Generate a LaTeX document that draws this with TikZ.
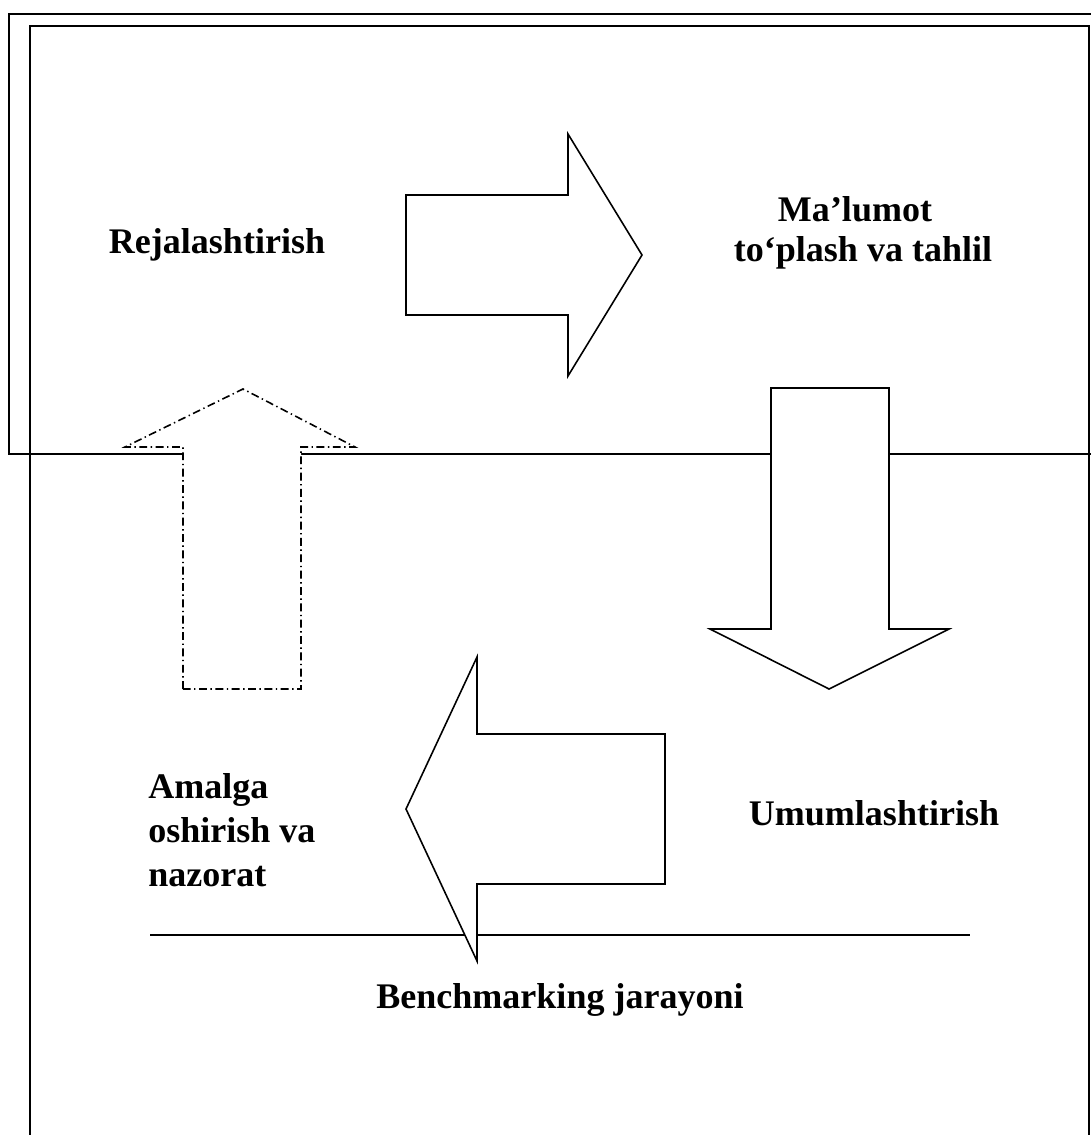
\documentclass[tikz,border=0pt]{standalone}
\usepackage{fontspec}
\setmainfont{Liberation Serif}
\usetikzlibrary{positioning}

\begin{document}
\begin{tikzpicture}[x=0.02cm, y=-0.02cm,
        frame/.style={draw=black, line width=1.1pt},
        blockarrow/.style={draw=black, line width=0.9pt, fill=white, line join=miter},
        dashdotarrow/.style={blockarrow, dash pattern=on 4.5pt off 2pt on 0.8pt off 2pt},
        stage/.style={font=\fontsize{20.5}{25}\selectfont\bfseries, inner sep=0pt}]
            \useasboundingbox (0, 0) rectangle (1091, 1135);
            \clip (0, 0) rectangle (1091, 1135);

            % frames
            \draw[frame] (1100, 14) -- (9, 14) -- (9, 454) -- (1100, 454);
            \draw[frame] (30, 1150) -- (30, 26) -- (1089, 26) -- (1089, 1150);
            \draw[frame] (150, 935) -- (970, 935);

            % block arrows
            \draw[blockarrow] (406, 195) -- (568, 195) -- (568, 134) -- (642, 255) -- (568, 376) -- (568, 315) -- (406, 315) -- cycle;
            \draw[blockarrow] (771, 388) -- (889, 388) -- (889, 629) -- (949, 629) -- (829, 689) -- (710, 629) -- (771, 629) -- cycle;
            \draw[blockarrow] (665, 734) -- (477, 734) -- (477, 657) -- (406, 809) -- (477, 961) -- (477, 884) -- (665, 884) -- cycle;
            \draw[dashdotarrow] (183, 689) -- (183, 447) -- (125, 447) -- (243, 389) -- (355, 447) -- (301, 447) -- (301, 689) -- cycle;

            \node[stage] (plan) at (217, 245) {Rejalashtirish};
            \node[stage] (collect1) at (855, 209) {Ma’lumot};
            \node[stage] (collect2) at (863, 253) {to‘plash va tahlil};
            \node[stage] (generalize) at (874, 813) {Umumlashtirish};
            \node[stage, align=left, anchor=west] (implement) at (148, 830) {Amalga\\oshirish va\\nazorat};
            \node[stage] (process) at (560, 1000) {Benchmarking jarayoni};
        \end{tikzpicture}
\end{document}
